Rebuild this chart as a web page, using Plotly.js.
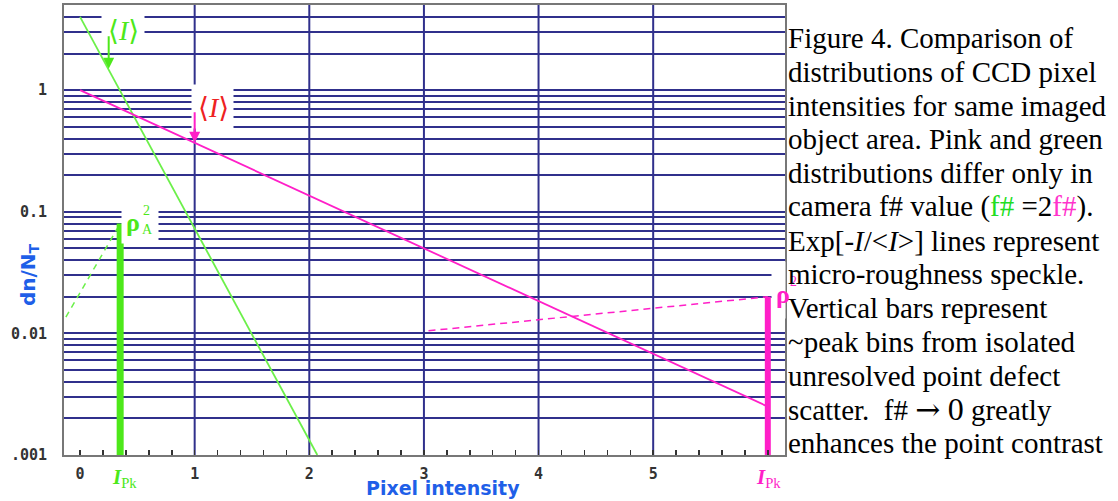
<!DOCTYPE html>
<html>
<head>
<meta charset="utf-8">
<script src="https://cdn.plot.ly/plotly-3.0.1.min.js"></script>
<style>html,body{margin:0;padding:0;background:#fff;}#chart{width:1118px;height:501px;}</style>
</head>
<body>
<div id="chart"></div>
<script>
// ---- data ----
const greenSpeckleX = [0, 2.07];
const greenSpeckleY = [4.0, 0.001];
const pinkSpeckleX = [0, 6.0];
const pinkSpeckleY = [1.0, 0.0025];
const greenBarX = [0.35, 0.35];
const greenBarY = [0.001, 0.08];
const pinkBarX = [6.0, 6.0];
const pinkBarY = [0.001, 0.02];
const greenDashX = [-0.22, 0.35];
const greenDashY = [0.0095, 0.08];
const pinkDashX = [3.04, 6.0];
const pinkDashY = [0.0105, 0.02];
const greenMeanI = 0.25, greenMeanY = 1.5;
const pinkMeanI = 1.0, pinkMeanY = 0.37;
const xTickVals = [0, 1, 2, 3, 4, 5];
const xTickText = ['0', '1', '2', '3', '4', '5'];
const xGridVals = [1, 2, 3, 4, 5];
const yGridVals = [0.001,0.002,0.003,0.004,0.005,0.006,0.007,0.008,0.009,
                   0.01,0.02,0.03,0.04,0.05,0.06,0.07,0.08,0.09,
                   0.1,0.2,0.3,0.4,0.5,0.6,0.7,0.8,0.9,
                   1,2,3,4,5];
const yLabelMap = {0.001: '.001', 0.01: '0.01', 0.1: '0.1', 1: '1'};
const captionLines = [
  'Figure 4. Comparison of',
  'distributions of CCD pixel',
  'intensities for same imaged',
  'object area. Pink and green',
  'distributions differ only in',
  'camera f# value (<span style="fill:#22dd22">f#</span> =2<span style="fill:#ff33cc">f#</span>).',
  'Exp[<i>-I</i>/&lt;<i>I</i>&gt;] lines represent',
  'micro-roughness speckle.',
  'Vertical bars represent',
  '~peak bins from isolated',
  'unresolved point defect',
  'scatter.  f# <span style="font-family:DejaVu Serif;font-size:30px">\u2192</span> <span style="font-size:32px">0</span> greatly',
  'enhances the point contrast'
];

// ---- layout geometry ----
const W = 1118, H = 501, L = 64, R = 785, T = 5, B = 455;
const px = x => (x - L) / (R - L);
const py = y => (B - y) / (B - T);

const GREEN = '#4de81a', GREEN_LINE = '#6cf04a', PINK = '#ff1fc8', RED = '#ee2222';
const GRID = '#30308c';
const BLUE = '#1f5fe8';

const traces = [
  {x: greenSpeckleX, y: greenSpeckleY, mode: 'lines', line: {color: GREEN_LINE, width: 1.8}},
  {x: pinkSpeckleX, y: pinkSpeckleY, mode: 'lines', line: {color: PINK, width: 1.8}},
  {x: greenDashX, y: greenDashY, mode: 'lines', line: {color: GREEN_LINE, width: 1.5, dash: '6px,5px'}},
  {x: pinkDashX, y: pinkDashY, mode: 'lines', line: {color: PINK, width: 1.5, dash: '7px,5px'}},
  {x: greenBarX, y: greenBarY, mode: 'lines', line: {color: GREEN, width: 7}},
  {x: pinkBarX, y: pinkBarY, mode: 'lines', line: {color: PINK, width: 6}}
];

const shapes = xGridVals.map(v => ({
  type: 'line', xref: 'x', yref: 'paper', x0: v, x1: v, y0: 0, y1: 1,
  line: {color: GRID, width: 2}, layer: 'below'
}));

const ann = [];
// white boxes behind labels
function box(x0, y0, x1, y1) {
  ann.push({xref: 'paper', yref: 'paper', x: px((x0 + x1) / 2), y: py((y0 + y1) / 2),
    xanchor: 'center', yanchor: 'middle', text: ' ', showarrow: false,
    width: x1 - x0, height: y1 - y0, bgcolor: '#ffffff', borderpad: 0, font: {size: 4}});
}
function lab(text, x, y, opts) {
  ann.push(Object.assign({xref: 'paper', yref: 'paper', x: px(x), y: py(y),
    xanchor: 'center', yanchor: 'middle', text: text, showarrow: false}, opts));
}
box(102, 9, 144, 52);
box(192, 85, 233, 128);
box(122, 205, 158, 243);
box(772, 262, 785, 318);

lab('\u27E8<i>I</i>\u27E9', 123, 30, {font: {family: 'Liberation Serif, DejaVu Serif', size: 28, color: GREEN}});
lab('\u27E8<i>I</i>\u27E9', 213, 107, {font: {family: 'Liberation Serif, DejaVu Serif', size: 28, color: RED}});
// arrows to <I>
ann.push({xref: 'x', yref: 'y', x: greenMeanI, y: Math.log10(greenMeanY), ax: 0, ay: -34,
  text: '', showarrow: true, arrowhead: 2, arrowsize: 1.1, arrowwidth: 2, arrowcolor: GREEN});
ann.push({xref: 'x', yref: 'y', x: pinkMeanI, y: Math.log10(pinkMeanY), ax: 0, ay: -32,
  text: '', showarrow: true, arrowhead: 2, arrowsize: 1.1, arrowwidth: 2, arrowcolor: PINK});
// rho labels
lab('<b>\u03C1</b>', 133, 222, {font: {family: 'Liberation Serif', size: 26, color: GREEN}});
lab('2', 146, 210, {font: {family: 'Liberation Serif', size: 14, color: GREEN}});
lab('A', 147, 229, {font: {family: 'Liberation Serif', size: 14, color: GREEN}});
lab('<b>\u03C1</b>', 783, 295, {font: {family: 'Liberation Serif', size: 26, color: PINK}});
lab('2', 793, 281, {font: {family: 'Liberation Serif', size: 14, color: PINK}});
// I_Pk labels
lab('<b><i>I</i></b><sub>Pk</sub>', 124, 478, {font: {family: 'Liberation Serif', size: 21, color: GREEN}});
lab('<b><i>I</i></b><sub>Pk</sub>', 768, 478, {font: {family: 'Liberation Serif', size: 21, color: PINK}});
// axis titles
lab('<b>Pixel intensity</b>', 443, 488, {font: {family: 'DejaVu Sans', size: 19, color: BLUE}});
lab('<b>dn/N<sub>T</sub></b>', 29, 275, {textangle: -90, font: {family: 'DejaVu Sans', size: 20, color: BLUE}});
// caption
captionLines.forEach((t, i) => {
  ann.push({xref: 'paper', yref: 'paper', x: px(786), y: py(38 + 33.75 * i),
    xanchor: 'left', yanchor: 'middle', text: t, showarrow: false,
    font: {family: 'Liberation Serif, Times New Roman, serif', size: 29, color: '#000'}});
});

const layout = {
  width: W, height: H,
  margin: {l: L, r: W - R, t: T, b: H - B, pad: 0},
  paper_bgcolor: '#fff', plot_bgcolor: '#fff',
  showlegend: false,
  xaxis: {
    range: [-0.14, 6.15], tickmode: 'array', tickvals: xTickVals, ticktext: xTickText,
    showgrid: false, zeroline: false, ticks: 'inside', ticklen: 5, tickwidth: 1.5, tickcolor: '#333',
    minor: {tickmode: 'linear', tick0: 0, dtick: 0.2, ticks: 'inside', ticklen: 5, tickwidth: 1.5, tickcolor: '#333', showgrid: false},
    showline: true, mirror: true, linecolor: '#777', linewidth: 2,
    tickfont: {family: 'DejaVu Sans Mono', size: 15, color: '#333', weight: 'bold'}, ticklabelstandoff: 4
  },
  yaxis: {
    type: 'log', range: [-3, 0.7], tickmode: 'array', tickvals: yGridVals,
    ticktext: yGridVals.map(v => yLabelMap[v] || ''),
    showgrid: true, gridcolor: GRID, gridwidth: 2, zeroline: false, ticks: '',
    showline: true, mirror: true, linecolor: '#777', linewidth: 2,
    tickfont: {family: 'DejaVu Sans Mono', size: 15, color: '#333', weight: 'bold'}, ticklabelstandoff: 12
  },
  shapes: shapes,
  annotations: ann
};

Plotly.newPlot('chart', traces, layout, {staticPlot: true, displayModeBar: false});
</script>
</body>
</html>
